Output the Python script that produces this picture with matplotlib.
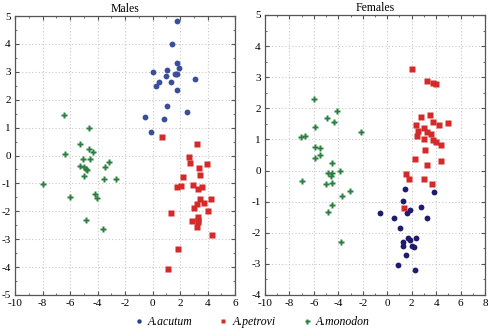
import matplotlib.pyplot as plt
from matplotlib.ticker import MultipleLocator

plt.rcParams["font.family"] = ["Liberation Serif", "DejaVu Serif"]
plt.rcParams["axes.unicode_minus"] = False

# ---- Males ----
males_acutum_x = [1.76, 1.44, 1.76, 1.9, 0.0, 1.05, 0.95, 1.6, 1.76, 1.68, 0.49, 1.37,
                  0.24, 3.12, 1.76, 1.05, 2.51, -0.51, 0.8, -0.12]
males_acutum_y = [4.83, 4.0, 3.3, 3.14, 3.01, 3.07, 2.85, 2.91, 2.91, 2.91, 2.65, 2.65,
                  2.48, 2.73, 2.34, 1.77, 1.56, 1.38, 1.32, 0.85]

males_petrovi_x = [0.68, 3.22, 2.68, 2.76, 3.95, 3.37, 2.24, 3.46, 1.76, 2.05, 2.95, 3.32,
                   3.59, 3.05, 3.2, 3.46, 3.76, 4.24, 4.0, 1.32, 3.34, 3.34, 3.34, 2.85,
                   3.27, 4.32, 1.88, 1.12]
males_petrovi_y = [0.65, 0.40, -0.04, -0.26, -0.32, -0.44, -0.77, -0.70, -1.14, -1.08, -1.05, -1.19,
                   -1.14, -1.87, -1.74, -1.57, -1.69, -1.56, -1.99, -2.05, -2.19, -2.3, -2.4, -2.36,
                   -2.55, -2.85, -3.35, -4.06]

males_monodon_x = [-6.44, -4.61, -5.29, -4.64, -4.33, -6.34, -5.08, -4.57, -3.14, -5.27, -3.45,
                   -4.96, -4.84, -4.79, -4.96, -3.53, -2.65, -7.99, -4.18, -4.01, -6.0, -4.81, -3.58]
males_monodon_y = [1.45, 0.97, 0.40, 0.25, 0.12, 0.06, -0.14, -0.12, -0.24, -0.36, -0.40,
                   -0.41, -0.47, -0.51, -0.73, -0.83, -0.86, -1.02, -1.38, -1.51, -1.47, -2.3, -2.64]

# ---- Females ----
females_acutum_x = [1.49, 3.84, 1.33, -0.62, 0.57, 1.6, 1.89, 2.73, 3.27, 1.06, 1.73, 1.89,
                    2.33, 1.33, 1.27, 2.03, 2.19, 1.54, 0.87, 2.25]
females_acutum_y = [-0.59, -0.70, -0.98, -1.35, -1.53, -1.37, -1.28, -1.17, -1.51, -1.86, -2.16, -2.23,
                    -2.16, -2.29, -2.42, -2.43, -2.47, -2.72, -3.04, -3.19]

females_petrovi_x = [2.03, 3.27, 3.71, 3.98, 2.79, 3.49, 2.38, 3.0, 3.76, 4.25, 5.0, 2.52,
                     3.25, 3.57, 2.46, 3.0, 3.76, 3.98, 4.36, 3.09, 2.25, 4.38, 3.27, 1.54,
                     1.76, 3.0, 3.65, 1.35]
females_petrovi_y = [3.28, 2.88, 2.82, 2.79, 1.73, 1.79, 1.45, 1.38, 1.57, 1.45, 1.52, 1.26,
                     1.24, 1.19, 1.10, 1.01, 0.99, 0.91, 0.82, 0.65, 0.38, 0.32, 0.17, -0.10,
                     -0.26, -0.26, -0.42, -1.19]

females_monodon_x = [-6.01, -4.11, -4.9, -4.36, -5.87, -7.09, -6.71, -2.17, -5.87, -5.49, -5.49,
                     -5.87, -4.55, -4.87, -4.55, -4.57, -3.87, -6.98, -5.03, -4.55, -3.03,
                     -3.71, -4.55, -4.82, -3.76]
females_monodon_y = [2.31, 1.92, 1.69, 1.55, 1.39, 1.09, 1.11, 1.23, 0.77, 0.72, 0.50,
                     0.39, 0.25, -0.08, -0.08, -0.16, 0.0, -0.32, -0.44, -0.41, -0.66,
                     -0.81, -1.11, -1.32, -2.31]

RED = "#d42a2a"
GREEN = "#2b8040"


def style_axes(ax, xlim, ylim, title):
    ax.set_xlim(*xlim)
    ax.set_ylim(*ylim)
    ax.xaxis.set_major_locator(MultipleLocator(2))
    ax.xaxis.set_minor_locator(MultipleLocator(1))
    ax.yaxis.set_major_locator(MultipleLocator(1))
    ax.yaxis.set_minor_locator(MultipleLocator(0.5))
    ax.tick_params(which="both", direction="in", top=True, right=True,
                   labelsize=8, pad=3, color="#555555")
    ax.tick_params(which="major", length=3)
    ax.tick_params(which="minor", length=1.5)
    ax.grid(True, which="major", linestyle=(0, (1, 2)), color="#c8c8c8", linewidth=0.8)
    ax.set_axisbelow(True)
    for s in ax.spines.values():
        s.set_color("#555555")
        s.set_linewidth(0.9)
    ax.set_title(title, fontsize=8.5, pad=3)


fig = plt.figure(figsize=(4.88, 3.29), dpi=100)
ax1 = fig.add_axes([15 / 488, 1 - 295 / 329, 220 / 488, 279 / 329])
ax2 = fig.add_axes([265 / 488, 1 - 295 / 329, 220 / 488, 280 / 329])

ms = 4.2
ax1.plot(males_acutum_x, males_acutum_y, "o", color="#3a4f9c", ms=ms, mec="none")
ax1.plot(males_petrovi_x, males_petrovi_y, "s", color=RED, ms=ms, mec="none")
ax1.plot(males_monodon_x, males_monodon_y, "P", color=GREEN, ms=4.6, mec="none")
style_axes(ax1, (-10, 6), (-5, 5), "Males")

ax2.plot(females_acutum_x, females_acutum_y, "o", color="#1e1c6c", ms=ms, mec="none")
ax2.plot(females_petrovi_x, females_petrovi_y, "s", color=RED, ms=ms, mec="none")
ax2.plot(females_monodon_x, females_monodon_y, "P", color=GREEN, ms=4.6, mec="none")
style_axes(ax2, (-10, 8), (-4, 5), "Females")

leg_h1, = ax1.plot([], [], "o", color="#2a3f8c", ms=3.2, mec="none")
leg_h2, = ax1.plot([], [], "s", color=RED, ms=3.2, mec="none")
leg_h3, = ax1.plot([], [], "P", color=GREEN, ms=3.6, mec="none")
fig.legend([leg_h1, leg_h2, leg_h3], ["A.acutum", "A.petrovi", "A.monodon"],
           loc="center", bbox_to_anchor=(0.515, 1 - 322 / 329), ncol=3, frameon=False,
           prop={"style": "italic", "size": 8.5}, handletextpad=0.3, columnspacing=2.1,
           handlelength=1.0)

fig.savefig("out.png", dpi=100)
